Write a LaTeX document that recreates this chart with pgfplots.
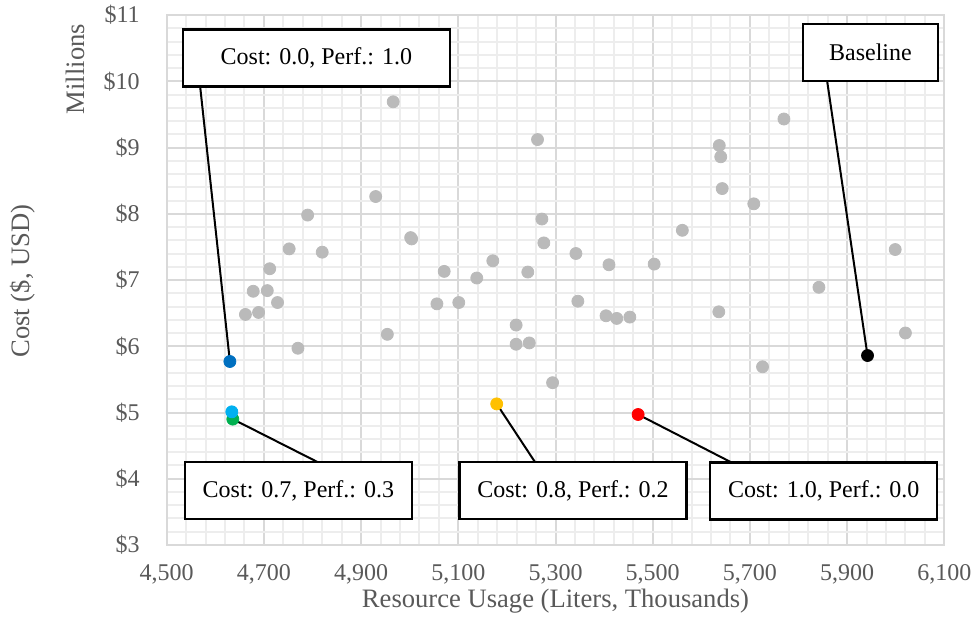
\documentclass[border=0pt]{standalone}
\usepackage{fontspec}
\setmainfont{Liberation Serif}
\usepackage{pgfplots}
\pgfplotsset{compat=1.18}
\definecolor{tickgray}{HTML}{595959}
\definecolor{majgrid}{HTML}{D9D9D9}
\definecolor{mingrid}{HTML}{EDEDED}
\definecolor{ptgray}{HTML}{BABABA}
\definecolor{cdblue}{HTML}{0070C0}
\definecolor{clblue}{HTML}{00B0F0}
\definecolor{cgreen}{HTML}{00B050}
\definecolor{cyellow}{HTML}{FFC000}
\definecolor{cred}{HTML}{FF0000}
\begin{document}
\begin{tikzpicture}
\path[use as bounding box] (-83.35pt,-40.5pt) rectangle (404.15pt,272.5pt);
\begin{axis}[
  at={(0,0)}, anchor=south west,
  scale only axis, width=388.8pt, height=265pt,
  xmin=4500, xmax=6100, ymin=3, ymax=11,
  xtick={4500,4700,...,6100}, ytick={3,4,...,11},
  minor x tick num=4, minor y tick num=4,
  grid=both,
  major grid style={draw=majgrid, line width=1pt},
  minor grid style={draw=mingrid, line width=1pt},
  axis line style={draw=majgrid, line width=1pt},
  tick style={draw=none},
  xticklabel={\pgfmathprintnumber[assume math mode=true,1000 sep={,}]{\tick}},
  yticklabel={\$\pgfmathprintnumber[assume math mode=true]{\tick}},
  ticklabel style={font=\fontsize{12}{14}\selectfont, text=tickgray},
  yticklabel style={xshift=-10pt},
  xticklabel style={yshift=-6pt},
  xlabel={Resource Usage (Liters, Thousands)},
  xlabel style={font=\fontsize{13.3}{16}\selectfont, text=tickgray, at={(axis description cs:0.5,0)}, anchor=base, yshift=-31.5pt},
  clip=false,
]
% gray solutions
\addplot[only marks, mark=*, mark size=3pt, color=ptgray] coordinates {
(4966,9.69) (5770,9.43) (5263,9.12) (5637,9.03) (5640,8.86) (5643,8.38)
(4930,8.26) (5708,8.15) (4790,7.98) (5272,7.92) (5561,7.75) (5002,7.64)
(5004,7.62) (5276,7.56) (4752,7.47) (4820,7.42) (5999,7.46) (5342,7.40)
(5171,7.29) (5410,7.23) (5503,7.24) (4712,7.17) (5071,7.13) (5243,7.12)
(5138,7.03) (5842,6.89) (4678,6.83) (4707,6.84) (4728,6.66) (5346,6.68)
(5056,6.64) (5101,6.66) (4662,6.48) (4689,6.51) (5404,6.46) (5426,6.42)
(5453,6.44) (5636,6.52) (5219,6.32) (4954,6.18) (6020,6.20) (4770,5.97)
(5219,6.03) (5246,6.05) (5726,5.69) (5294,5.45)
};
% leader lines
\addplot[black, line width=1pt, no marks, forget plot] coordinates {(4569,9.91) (4630,5.77)};
\addplot[black, line width=1pt, no marks, forget plot] coordinates {(5859,10.00) (5942,5.86)};
\addplot[black, line width=1pt, no marks, forget plot] coordinates {(4811,4.25) (4636,4.90)};
\addplot[black, line width=1pt, no marks, forget plot] coordinates {(5258,4.25) (5179,5.13)};
\addplot[black, line width=1pt, no marks, forget plot] coordinates {(5661,4.25) (5470,4.97)};
% highlighted solutions
\addplot[only marks, mark=*, mark size=3pt, color=cdblue] coordinates {(4630,5.77)};
\addplot[only marks, mark=*, mark size=3pt, color=cgreen] coordinates {(4636,4.90)};
\addplot[only marks, mark=*, mark size=3pt, color=clblue] coordinates {(4634,5.01)};
\addplot[only marks, mark=*, mark size=3pt, color=cyellow] coordinates {(5179,5.13)};
\addplot[only marks, mark=*, mark size=3pt, color=cred] coordinates {(5470,4.97)};
\addplot[only marks, mark=*, mark size=3pt, color=black] coordinates {(5942,5.86)};
% callout boxes
\tikzset{callout/.style={draw=black, line width=1.1pt, fill=white, inner sep=0pt, font=\fontsize{12}{14}\selectfont, minimum height=28.5pt}}
\node[callout, minimum width=133.5pt] at (axis cs:4808,10.35) {Cost: 0.0, Perf.: 1.0};
\node[callout, minimum width=67.5pt] at (axis cs:5948,10.43) {Baseline};
\node[callout, minimum width=113.5pt] at (axis cs:4771,3.82) {Cost: 0.7, Perf.: 0.3};
\node[callout, minimum width=113.5pt] at (axis cs:5336,3.82) {Cost: 0.8, Perf.: 0.2};
\node[callout, minimum width=113.5pt] at (axis cs:5852,3.815) {Cost: 1.0, Perf.: 0.0};
\end{axis}
\node[rotate=90, font=\fontsize{13.3}{16}\selectfont, text=tickgray] at (-71.85pt,132pt) {Cost (\$, USD)};
\node[rotate=90, font=\fontsize{13.3}{16}\selectfont, text=tickgray] at (-45.85pt,238pt) {Millions};
\end{tikzpicture}
\end{document}
